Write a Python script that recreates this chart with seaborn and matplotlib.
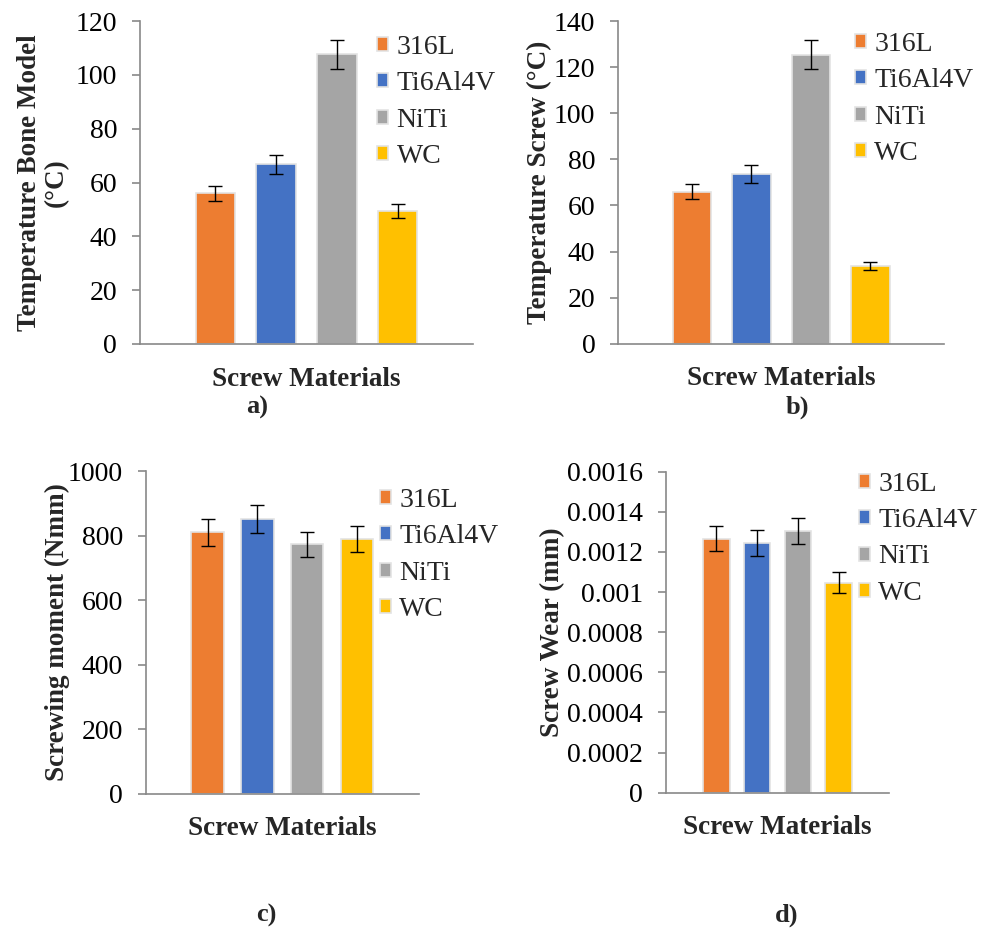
import pandas as pd
import numpy as np
import matplotlib
matplotlib.use('Agg')
import matplotlib.pyplot as plt
from matplotlib.ticker import FuncFormatter, MultipleLocator
import seaborn as sns

sns.set_theme(style='white')
plt.rcParams['font.family'] = ['Liberation Serif', 'DejaVu Serif']

# =========================
# Data
# =========================
materials = ['316L', 'Ti6Al4V', 'NiTi', 'WC']
colors = ['#ED7D31', '#4472C4', '#A5A5A5', '#FFC000']

bone_temp = [56.0, 66.8, 107.6, 49.4]
bone_temp_err = [2.8, 3.5, 5.4, 2.5]

screw_temp = [65.9, 73.6, 125.4, 33.8]
screw_temp_err = [3.3, 3.8, 6.3, 1.8]

moment = [810, 851, 773, 789]
moment_err = [41, 43, 39, 40]

wear = [0.001265, 0.001245, 0.001306, 0.001046]
wear_err = [0.000062, 0.000063, 0.000065, 0.000052]

group = 'Screw Materials'
spine_col = '#898989'


# =========================
# Panel helper
# =========================
def draw_panel(ax, values, errors, ylabel, ymax, ystep, ylab_x, legend_xy):
    df = pd.DataFrame({'group': group, 'material': materials, 'value': values})
    sns.barplot(
        data=df, x='group', y='value', hue='material',
        palette=colors, hue_order=materials, saturation=1,
        width=0.73, gap=0.35, errorbar=None,
        edgecolor='#e3e3e3', linewidth=1.2, ax=ax
    )
    ax.set_xlim(-0.5, 0.5)
    for patch, err in zip(ax.patches, errors):
        cx = patch.get_x() + patch.get_width() / 2
        ax.errorbar(cx, patch.get_height(), yerr=err, fmt='none',
                    ecolor='black', elinewidth=1, capsize=5, capthick=1)

    ax.set_ylim(0, ymax)
    ax.yaxis.set_major_locator(MultipleLocator(ystep))
    ax.yaxis.set_major_formatter(FuncFormatter(lambda v, p: '{:g}'.format(round(v, 8))))

    for s in ['top', 'right']:
        ax.spines[s].set_visible(False)
    for s in ['left', 'bottom']:
        ax.spines[s].set_color(spine_col)
        ax.spines[s].set_linewidth(1.2)
    ax.tick_params(axis='y', left=True, direction='out', length=6, width=1.2,
                   color=spine_col, labelcolor='black', labelsize=20, pad=10.5)
    ax.tick_params(axis='x', bottom=False, labelbottom=False)

    ax.set_ylabel(ylabel, fontsize=19.5, fontweight='bold', linespacing=1.1)
    ax.yaxis.set_label_coords(ylab_x, 0.5)
    ax.set_xlabel('Screw Materials', fontsize=19.5, fontweight='bold')
    ax.xaxis.set_label_coords(0.5, -0.07)

    sns.move_legend(
        ax, 'upper left', bbox_to_anchor=legend_xy, title=None, frameon=False,
        fontsize=20, handlelength=0.4, handleheight=0.4, borderpad=0,
        handletextpad=0.3, labelspacing=0.41, borderaxespad=0
    )


fig = plt.figure(figsize=(9.89, 9.34), dpi=100)

ax_a = fig.add_axes([0.1416, 0.6317, 0.3367, 0.3458])
ax_b = fig.add_axes([0.6252, 0.6320, 0.3293, 0.3455])
ax_c = fig.add_axes([0.1473, 0.1502, 0.2763, 0.3455])
ax_d = fig.add_axes([0.6734, 0.1513, 0.2255, 0.3437])

draw_panel(ax_a, bone_temp, bone_temp_err, 'Temperature Bone Model\n(°C)',
           120, 20, -0.215, (0.712, 0.957))
draw_panel(ax_b, screw_temp, screw_temp_err, 'Temperature Screw (°C)',
           140, 20, -0.203, (0.726, 0.966))
draw_panel(ax_c, moment, moment_err, 'Screwing moment (Nmm)',
           1000, 200, -0.277, (0.857, 0.948))
draw_panel(ax_d, wear, wear_err, 'Screw Wear (mm)',
           0.0016, 0.0002, -0.453, (0.865, 1.0))

# panel letters
fig.text(257 / 989, 1 - 407 / 934, 'a)', ha='center', va='center', fontsize=19, fontweight='bold')
fig.text(797 / 989, 1 - 407 / 934, 'b)', ha='center', va='center', fontsize=19, fontweight='bold')
fig.text(266 / 989, 1 - 915 / 934, 'c)', ha='center', va='center', fontsize=19, fontweight='bold')
fig.text(787 / 989, 1 - 915 / 934, 'd)', ha='center', va='center', fontsize=19, fontweight='bold')

plt.savefig('out.png', dpi=100)
